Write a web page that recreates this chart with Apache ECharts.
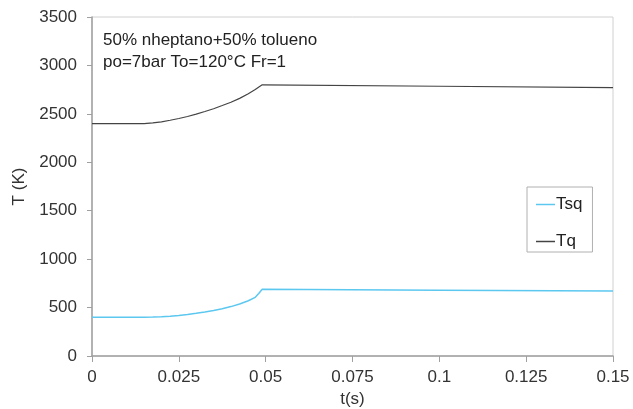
<!DOCTYPE html>
<html>
<head>
<meta charset="utf-8">
<script src="https://cdn.jsdelivr.net/npm/echarts@6/dist/echarts.min.js"></script>
<style>html,body{margin:0;padding:0;background:#fff}#c{width:633px;height:409px}</style>
</head>
<body>
<div id="c"></div>
<script>
var tsqT = [0, 0.015, 0.0175, 0.02, 0.0225, 0.025, 0.0275, 0.03, 0.0325, 0.035, 0.0375, 0.04, 0.0425, 0.045, 0.047, 0.048, 0.049, 0.1, 0.15];
var tsqV = [400, 400, 402, 405, 411, 419, 429, 441, 454, 469, 488, 510, 537, 570, 606, 645, 690, 680, 670];
var tqT = [0, 0.015, 0.0175, 0.02, 0.0225, 0.025, 0.0275, 0.03, 0.0325, 0.035, 0.0375, 0.04, 0.0425, 0.045, 0.047, 0.049, 0.1, 0.15];
var tqV = [2400, 2400, 2406, 2418, 2434, 2452, 2473, 2497, 2524, 2553, 2586, 2620, 2660, 2708, 2752, 2800, 2785, 2770];
var xTickLabels = ['0', '0.025', '0.05', '0.075', '0.1', '0.125', '0.15'];
var yTickLabels = ['0', '500', '1000', '1500', '2000', '2500', '3000', '3500'];
var annotation = ['50% nheptano+50% tolueno', 'po=7bar To=120°C Fr=1'];

function zip(a, b) { return a.map(function (v, i) { return [v, b[i]]; }); }

var font = 'Liberation Sans, Arial, sans-serif';
var chart = echarts.init(document.getElementById('c'), null, { renderer: 'canvas' });
chart.setOption({
  animation: false,
  backgroundColor: '#fff',
  grid: { left: 92, right: 20, top: 17, bottom: 53, show: true, borderColor: '#d0d0d0', borderWidth: 1,
          containLabel: false, outerBoundsMode: 'none' },
  xAxis: {
    type: 'value', min: 0, max: 0.15, interval: 0.025,
    name: 't(s)', nameLocation: 'middle', nameGap: 32,
    nameTextStyle: { fontFamily: font, fontSize: 17, color: '#333' },
    axisLine: { lineStyle: { color: '#a0a0a0', width: 1.5 } },
    axisTick: { show: true, length: 6, lineStyle: { color: '#a0a0a0' } },
    splitLine: { show: false },
    axisLabel: {
      margin: 13, fontFamily: font, fontSize: 17, color: '#333',
      formatter: function (v) { return xTickLabels[Math.round(v / 0.025)]; }
    }
  },
  yAxis: {
    type: 'value', min: 0, max: 3500, interval: 500,
    name: 'T (K)', nameLocation: 'middle', nameGap: 61, nameRotate: 90,
    nameTextStyle: { fontFamily: font, fontSize: 17, color: '#333' },
    axisLine: { show: true, lineStyle: { color: '#a0a0a0', width: 1.5 } },
    axisTick: { show: true, length: 5, lineStyle: { color: '#a0a0a0' } },
    splitLine: { show: false },
    axisLabel: {
      margin: 15, fontFamily: font, fontSize: 17, color: '#333',
      formatter: function (v) { return yTickLabels[Math.round(v / 500)]; }
    }
  },
  legend: {
    orient: 'vertical', left: 527, top: 187,
    padding: [9, 10, 2, 9], itemGap: 20,
    borderColor: '#b0b0b0', borderWidth: 1,
    icon: 'rect', itemWidth: 19, itemHeight: 1.5,
    textStyle: { fontFamily: font, fontSize: 17, color: '#222', padding: [0, 0, 0, -4] },
    data: ['Tsq', 'Tq']
  },
  graphic: [{
    type: 'text', left: 103, top: 29,
    style: { text: annotation.join('\n'), font: '17px ' + font, fill: '#222', lineHeight: 22 }
  }],
  series: [
    { name: 'Tsq', type: 'line', symbol: 'none', data: zip(tsqT, tsqV),
      lineStyle: { color: '#5cc8f0', width: 1.5 }, itemStyle: { color: '#5cc8f0' } },
    { name: 'Tq', type: 'line', symbol: 'none', data: zip(tqT, tqV),
      lineStyle: { color: '#444', width: 1.2 }, itemStyle: { color: '#444' } }
  ]
});
</script>
</body>
</html>
